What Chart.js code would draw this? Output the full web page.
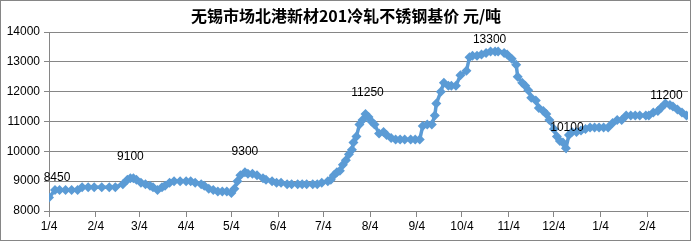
<!DOCTYPE html>
<html>
<head>
<meta charset="utf-8">
<script src="https://cdn.jsdelivr.net/npm/chart.js@4/dist/chart.umd.min.js"></script>
<style>
html,body{margin:0;padding:0;background:#fff;}
#wrap{position:relative;width:693px;height:242px;}
canvas{display:block;}
</style>
</head>
<body>
<div id="wrap"><canvas id="c" width="693" height="242"></canvas></div>
<script>
// Days since 4 Jan 2016 and base price (元/吨)
const days = [0,4,7,11,15,19,22,26,30,35,40,44,49,52,54,56,58,61,64,67,69,72,75,77,80,83,87,91,94,97,101,103,106,109,112,115,118,121,123,125,127,130,132,135,138,142,144,148,151,154,158,161,165,168,171,175,178,181,185,187,189,191,193,195,197,199,201,202,204,206,208,210,212,214,216,219,222,224,227,230,233,236,240,243,246,248,251,254,256,257,260,262,265,267,270,273,277,279,281,284,287,290,293,296,298,302,304,307,310,311,314,316,318,320,323,325,328,330,332,335,337,339,341,343,345,347,350,353,356,359,362,365,368,371,374,377,380,383,386,389,392,396,398,401,404,406,409,412,414,417,420,423];
const prices = [8450,8700,8700,8700,8700,8700,8800,8800,8800,8800,8800,8800,8900,9050,9100,9100,9050,8950,8900,8850,8800,8700,8800,8850,8950,9000,9000,9000,9000,8950,8900,8850,8750,8700,8650,8650,8650,8600,8750,9000,9200,9300,9250,9250,9200,9100,9050,9000,8950,8950,8900,8900,8900,8900,8900,8900,8900,8950,9000,9050,9200,9300,9350,9550,9700,9900,10050,10300,10500,10900,11050,11250,11150,11000,10900,10600,10650,10550,10450,10400,10400,10400,10400,10400,10400,10850,10900,10900,11200,11600,12000,12300,12200,12200,12200,12550,12700,13150,13200,13200,13250,13300,13350,13350,13350,13300,13250,13100,12900,12500,12300,12200,12050,11800,11700,11450,11350,11250,11050,10750,10500,10350,10300,10100,10550,10650,10650,10700,10750,10800,10800,10800,10800,10800,10950,11050,11050,11200,11200,11200,11200,11200,11200,11300,11350,11450,11600,11550,11500,11400,11300,11200];
// Month tick positions (days since 4 Jan 2016) and their labels
const tickDays = [0,31,60,91,121,152,182,213,244,274,305,335,366,397];
const tickLabels = ["1/4","2/4","3/4","4/4","5/4","6/4","7/4","8/4","9/4","10/4","11/4","12/4","1/4","2/4"];
// Annotated values
const noteDays = [0,54,130,210,293,343,409];
const noteTexts = ["8450","9100","9300","11250","13300","10100","11200"];
const noteOffsets = [[8,-20],[0,-21],[0,-21],[2,-21],[-1,-12],[1,-21],[1,-8]];

const chartTitle = "无锡市场北港新材201冷轧不锈钢基价 元/吨";

const frame = {
  id:'frame',
  beforeDraw(chart){
    const ctx = chart.ctx;
    ctx.save();
    ctx.fillStyle='#fff';
    ctx.fillRect(0,0,chart.width,chart.height);
    ctx.strokeStyle='#868686';
    ctx.lineWidth=1;
    ctx.strokeRect(0.5,0.5,690,240);
    ctx.fillStyle='#000';
    ctx.font='bold 16px "Noto Sans CJK SC"';
    ctx.textAlign='center';
    ctx.textBaseline='middle';
    ctx.fillText(chartTitle,346,16);
    ctx.restore();
  }
};
const notes = {
  id:'notes',
  afterDatasetsDraw(chart){
    const meta = chart.getDatasetMeta(0);
    const ctx = chart.ctx;
    ctx.save();
    ctx.fillStyle='#000';
    ctx.font='12px "Liberation Sans"';
    ctx.textAlign='center';
    ctx.textBaseline='middle';
    noteDays.forEach((d,i)=>{
      const idx = days.indexOf(d);
      const p = meta.data[idx];
      ctx.fillText(noteTexts[i], p.x+noteOffsets[i][0], p.y+noteOffsets[i][1]);
    });
    ctx.restore();
  }
};

new Chart(document.getElementById('c'),{
  type:'line',
  data:{datasets:[{
    data: days.map((d,i)=>({x:d,y:prices[i]})),
    borderColor:'#5B9BD5',
    backgroundColor:'#5B9BD5',
    borderWidth:3.5,
    pointStyle:'rectRot',
    pointRadius:5,
    pointBorderWidth:0,
    pointHoverRadius:5,
    tension:0
  }]},
  options:{
    responsive:false,
    animation:false,
    devicePixelRatio:1,
    layout:{padding:{top:32,right:3,left:0,bottom:0}},
    plugins:{legend:{display:false},tooltip:{enabled:false},title:{display:false}},
    scales:{
      x:{
        type:'linear',min:0,max:424,
        afterBuildTicks(s){ s.ticks = tickDays.map(v=>({value:v})); },
        afterFit(s){ s.height = 31; },
        ticks:{autoSkip:false,maxRotation:0,padding:2,color:'#000',font:{family:'Liberation Sans',size:12},
          callback(v){ const i=tickDays.indexOf(v); return i>=0?tickLabels[i]:null; }},
        grid:{drawOnChartArea:false,drawTicks:true,tickLength:6,color:'#868686'},
        border:{display:true,color:'#868686',width:1}
      },
      y:{
        min:8000,max:14000,
        afterFit(s){ s.width = 49; },
        ticks:{stepSize:1000,padding:4,color:'#000',font:{family:'Liberation Sans',size:12},
          callback(v){ return String(v); }},
        grid:{color:'#868686',tickLength:5,drawTicks:true},
        border:{display:true,color:'#868686',width:1}
      }
    }
  },
  plugins:[frame,notes]
});
</script>
</body>
</html>
